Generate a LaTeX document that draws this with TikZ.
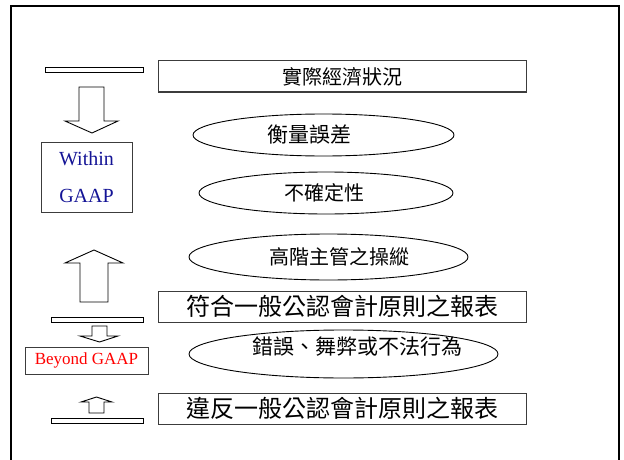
\documentclass[tikz,border=0pt]{standalone}
\usepackage{fontspec}
\setmainfont{Liberation Serif}
\newfontfamily\cjk{Noto Sans CJK TC}
\usetikzlibrary{shapes.geometric}
\definecolor{gaapblue}{RGB}{20,20,150}
\definecolor{boxgray}{RGB}{60,60,60}
\tikzset{
  stmtbox/.style={draw=boxgray, line width=1pt, rectangle, inner sep=0pt, anchor=center},
  oval/.style={draw=black, line width=0.9pt, ellipse, inner sep=0pt},
  flatbar/.style={draw=black, line width=0.9pt, fill=white},
  blockarrow/.style={draw=black, line width=0.9pt, fill=white, line join=miter},
  cjktext/.style={font=\cjk\fontsize{20}{24}\selectfont, inner sep=0pt},
  cjkbig/.style={font=\cjk\fontsize{24}{28}\selectfont, inner sep=0pt},
  frameline/.style={draw=black, line width=2.6pt}
}
\begin{document}
\begin{tikzpicture}[x=1pt,y=-1pt]
\useasboundingbox (0,0) rectangle (624,460);
\fill[white] (0,0) rectangle (624,460);
% outer frame (bottom edge outside the picture)
\draw[frameline] (11,462) -- (11,6) -- (619,6) -- (619,462);

% statement boxes
\node[stmtbox, minimum width=368pt, minimum height=31pt, cjktext] (econ) at (342,76.5) {實際經濟狀況};
\node[stmtbox, minimum width=368pt, minimum height=31pt, cjkbig] (gaap) at (342,306.5) {符合一般公認會計原則之報表};
\node[stmtbox, minimum width=368pt, minimum height=31pt, cjkbig] (nongaap) at (342,408.5) {違反一般公認會計原則之報表};

% ellipses
\node[oval, minimum width=261pt, minimum height=42pt] (measure) at (323.5,135) {};
\node[cjktext, font=\cjk\fontsize{21}{24}\selectfont] (measuret) at (309,135) {衡量誤差};
\node[oval, minimum width=254pt, minimum height=42pt] (uncert) at (326,193) {};
\node[cjktext] (uncertt) at (324,193) {不確定性};
\node[oval, minimum width=279pt, minimum height=46pt] (manip) at (328.5,257) {};
\node[cjktext] (manipt) at (339,257) {高階主管之操縱};
\node[oval, minimum width=309pt, minimum height=48pt] (fraud) at (343.5,354) {};
\node[cjktext, font=\cjk\fontsize{21}{24}\selectfont] (fraudt) at (357,347) {錯誤、舞弊或不法行為};

% left labels
\node[stmtbox, minimum width=91pt, minimum height=70pt, text=gaapblue, align=center,
      font=\fontsize{20}{37}\selectfont] (within) at (86.5,177) {Within\\GAAP};
\node[stmtbox, minimum width=123pt, minimum height=27pt, text=red,
      font=\fontsize{17}{20}\selectfont] (beyond) at (86.5,360.5) {Beyond GAAP};

% flat bars
\draw[flatbar] (45,67) rectangle (143,72);
\draw[flatbar] (51,317) rectangle (143,322);
\draw[flatbar] (51,418) rectangle (143,423);

% block arrows
\draw[blockarrow] (79,87) -- (104,87) -- (104,121) -- (118,121) -- (92,133) -- (65,121) -- (79,121) -- cycle;
\draw[blockarrow] (80,302) -- (108,302) -- (108,263) -- (123,263) -- (94,250) -- (65,263) -- (80,263) -- cycle;
\draw[blockarrow] (92,326) -- (107,326) -- (107,336) -- (118,336) -- (99.5,342) -- (80,336) -- (92,336) -- cycle;
\draw[blockarrow] (89,413) -- (104,413) -- (104,402) -- (112,402) -- (96.5,397) -- (81,402) -- (89,402) -- cycle;
\end{tikzpicture}
\end{document}
